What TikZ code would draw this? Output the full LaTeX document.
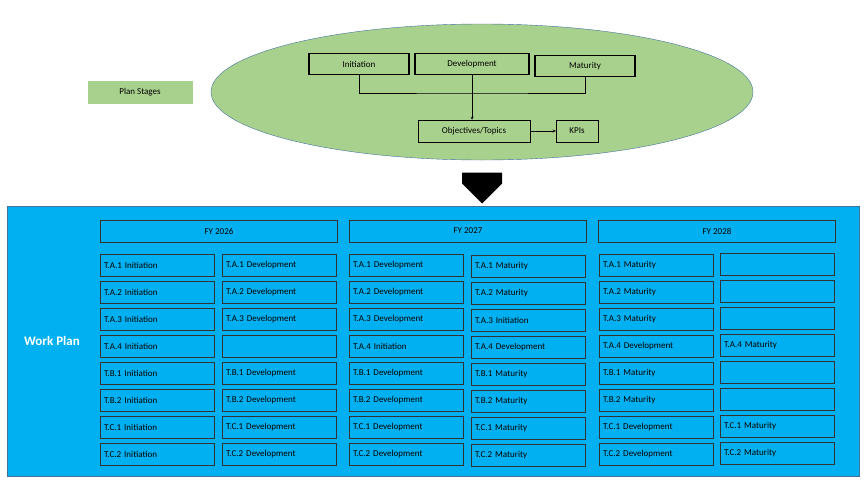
\documentclass[tikz,border=0pt]{standalone}
\usepackage{fontspec}
\setmainfont{Carlito}
\usetikzlibrary{shapes.arrows, shapes.geometric}
\definecolor{stagegreen}{HTML}{A9D18E}
\definecolor{planblue}{HTML}{00B0F0}
\definecolor{edgeblue}{HTML}{41719C}
\tikzset{
    % boxes
    stage/.style={
        draw=black,
        line width=1.6pt,
        minimum width=100pt,
        minimum height=21pt,
        font=\fontsize{9}{10}\selectfont
    },
    flow/.style={
        draw=black,
        line width=.5pt,
        minimum height=22pt,
        font=\fontsize{9}{10}\selectfont
    },
    task/.style={
        draw=black!80,
        line width=.5pt,
        minimum width=114pt,
        minimum height=22pt,
        text width=106pt,
        align=left,
        inner sep=4pt,
        font=\fontsize{9}{10}\selectfont
    },
    year/.style={
        draw=black!80,
        line width=.5pt,
        minimum width=237pt,
        minimum height=22pt,
        font=\fontsize{9}{10}\selectfont
    }
}
\begin{document}
\begin{tikzpicture}[x=1pt, y=-1pt, >=stealth]
    \useasboundingbox (0, 0) rectangle (864, 482);

    % stages
    \node [ellipse, draw=edgeblue, fill=stagegreen, minimum width=542pt, minimum height=136pt] (cloud) at (482, 92) {};
    \node [fill=stagegreen, minimum width=105pt, minimum height=23pt, font=\fontsize{9}{10}\selectfont] (stages) at (140, 92) {Plan Stages};
    \node [stage] (init) at (359, 64) {Initiation};
    \node [stage, minimum width=114pt] (dev) at (472, 64) {Development};
    \node [stage] (mat) at (585, 66) {Maturity};
    \node [flow, minimum width=112pt] (obj) at (474, 131) {Objectives/Topics};
    \node [flow, minimum width=42pt] (kpi) at (577, 131) {KPIs};
    \coordinate (join) at (472, 93);
    \draw (init.south) |- (join) -| (mat.south);
    \draw (dev.south) -- (join);
    \draw [->] (join) -- (obj.north -| join);
    \draw [->] (obj) -- (kpi);
    \node [single arrow, draw=none, fill=black, rotate=-90, minimum width=40pt, single arrow head extend=0pt, minimum height=31pt, inner sep=0pt] (down) at (482, 178) {};

    % work plan
    \node [draw=edgeblue, fill=planblue, minimum width=852pt, minimum height=270pt] (plan) at (433, 341) {};
    \node [text=white, font=\fontsize{13}{14}\selectfont\bfseries] (wp) at (52, 341) {Work Plan};

    \foreach \l [count=\i] in {2026, 2027, 2028}
        \node [year] (fy-\i) at (219 + 249*\i - 249, 231) {FY \l};

    \foreach \a/\b [count=\y] in {T.A.1 Initiation/T.A.1 Development, T.A.2 Initiation/T.A.2 Development, T.A.3 Initiation/T.A.3 Development, T.A.4 Initiation/, T.B.1 Initiation/T.B.1 Development, T.B.2 Initiation/T.B.2 Development, T.C.1 Initiation/T.C.1 Development, T.C.2 Initiation/T.C.2 Development} {
        \node [task] (t1-\y) at (157, 238 + 27*\y) {\a};
        \node [task] (t2-\y) at (279, 238 + 27*\y) {\b};
    }
    \foreach \a/\b [count=\y] in {T.A.1 Development/T.A.1 Maturity, T.A.2 Development/T.A.2 Maturity, T.A.3 Development/T.A.3 Initiation, T.A.4 Initiation/T.A.4 Development, T.B.1 Development/T.B.1 Maturity, T.B.2 Development/T.B.2 Maturity, T.C.1 Development/T.C.1 Maturity, T.C.2 Development/T.C.2 Maturity} {
        \node [task] (t3-\y) at (406, 238 + 27*\y) {\a};
        \node [task] (t4-\y) at (528, 239 + 27*\y) {\b};
    }
    \foreach \a/\b [count=\y] in {T.A.1 Maturity/, T.A.2 Maturity/, T.A.3 Maturity/, T.A.4 Development/T.A.4 Maturity, T.B.1 Maturity/, T.B.2 Maturity/, T.C.1 Development/T.C.1 Maturity, T.C.2 Development/T.C.2 Maturity} {
        \node [task] (t5-\y) at (656, 238 + 27*\y) {\a};
        \node [task] (t6-\y) at (777, 237 + 27*\y) {\b};
    }
\end{tikzpicture}
\end{document}
